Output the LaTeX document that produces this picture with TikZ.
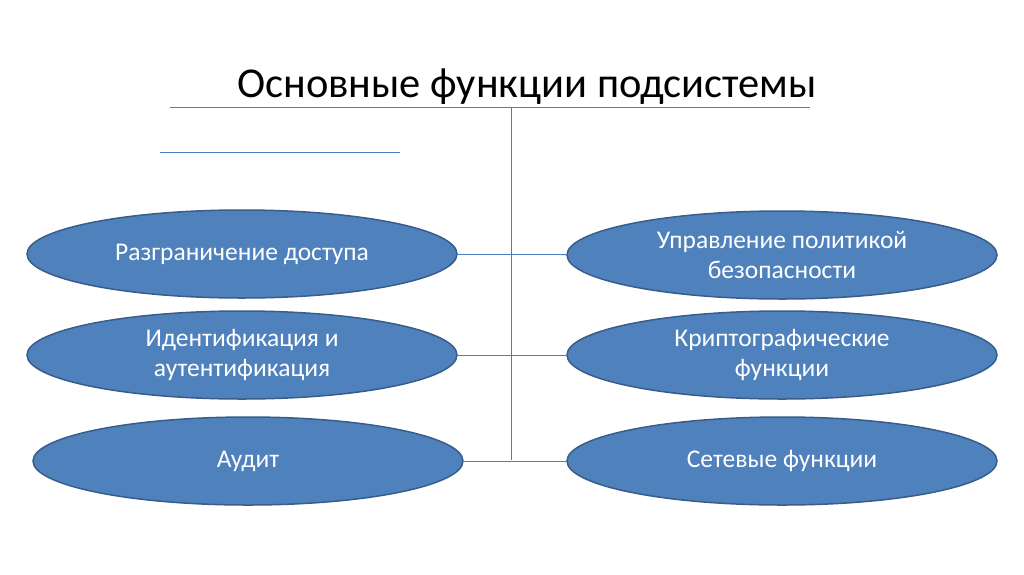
\documentclass[tikz,border=0pt]{standalone}
\usepackage{fontspec}
\setmainfont{Carlito}
\usetikzlibrary{shapes.geometric}
\definecolor{fillb}{HTML}{4F81BD}
\definecolor{edgeb}{HTML}{385D8A}
\definecolor{lineb}{HTML}{4A7EBB}
\tikzset{
 oval/.style={ellipse,draw=edgeb,line width=1.5pt,fill=fillb,text=white,font=\fontsize{25.5}{30}\selectfont,align=center,inner sep=0pt,minimum width=430pt,minimum height=88pt},
 conn/.style={draw=lineb,line width=0.8pt}
}
\begin{document}
\begin{tikzpicture}[x=1pt,y=-1pt]
\useasboundingbox (0,0) rectangle (1024,574);
\node[font=\fontsize{42.5}{50}\selectfont] (title) at (527,87) {Основные функции подсистемы};
\coordinate (t1) at (170,107); \coordinate (t2) at (810,107);
\coordinate (s1) at (160,152); \coordinate (s2) at (400,152);
\coordinate (v1) at (511,107); \coordinate (v2) at (511,460);
\draw[conn] (t1) -- (t2);
\draw[conn] (s1) -- (s2);
\draw[conn] (v1) -- (v2);
\node[oval] (l1) at (242,254) {Разграничение доступа};
\node[oval] (l2) at (242,355) {Идентификация и\\аутентификация};
\node[oval] (l3) at (248,461) {Аудит};
\node[oval] (r1) at (782,255) {Управление политикой\\безопасности};
\node[oval] (r2) at (782,355) {Криптографические\\функции};
\node[oval] (r3) at (782,461) {Сетевые функции};
\draw[conn] (l1) -- (r1);
\draw[conn] (l2) -- (r2);
\draw[conn] (l3) -- (r3);
\end{tikzpicture}
\end{document}
